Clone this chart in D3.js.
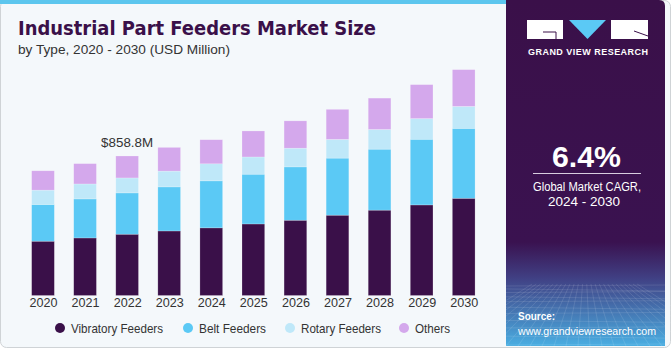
<!DOCTYPE html>
<html>
<head>
<meta charset="utf-8">
<script src="https://cdn.jsdelivr.net/npm/d3@7"></script>
<style>
  body { margin: 0; background: #ffffff; }
  svg { display: block; font-family: "Liberation Sans", Arial, sans-serif; }
</style>
</head>
<body>
<div id="chart"></div>
<script>
const years = ["2020", "2021", "2022", "2023", "2024", "2025", "2026", "2027", "2028", "2029", "2030"];
const vibratory = [334, 354, 377, 397, 416, 440, 463, 494, 525, 557, 598];
const belt = [226, 240, 254, 271, 289, 306, 328, 351, 375, 404, 430];
const rotary = [88, 92, 92, 97, 105, 106, 115, 115, 121, 127, 135];
const others = [119, 125, 135, 146, 148, 160, 168, 185, 193, 209, 226];
const seriesNames = ["Vibratory Feeders", "Belt Feeders", "Rotary Feeders", "Others"];
const seriesColors = ["#3a1049", "#5bc9f5", "#bfe8f9", "#d4a8ec"];
const calloutYear = "2022";
const calloutLabel = "$858.8M";

const width = 671, height = 350;

const svg = d3.select("#chart").append("svg")
    .attr("width", width)
    .attr("height", height);

const defs = svg.append("defs");
const grad = defs.append("linearGradient")
    .attr("id", "panelGrad")
    .attr("x1", 0).attr("y1", 0).attr("x2", 0).attr("y2", 1);
grad.append("stop").attr("offset", "0%").attr("stop-color", "#3a1049");
grad.append("stop").attr("offset", "70%").attr("stop-color", "#3a1250");
grad.append("stop").attr("offset", "80%").attr("stop-color", "#403e82");
grad.append("stop").attr("offset", "100%").attr("stop-color", "#4aaee2");

// card background
svg.append("rect")
    .attr("x", 0.5).attr("y", 0.5)
    .attr("width", width - 1).attr("height", height - 3)
    .attr("rx", 6)
    .attr("fill", "#f4f8fb")
    .attr("stroke", "#cfd3d6");
svg.append("rect")
    .attr("x", 0).attr("y", 0)
    .attr("width", 506).attr("height", 4)
    .attr("fill", "#5cc6ee");

// right panel
svg.append("path")
    .attr("d", "M506,0 H659 Q665,0 665,6 V346 H506 Z")
    .attr("fill", "url(#panelGrad)");

// grid texture at the bottom of the panel
const gridG = svg.append("g").attr("stroke", "#ffffff").attr("stroke-opacity", 0.16).attr("stroke-width", 0.7);
d3.range(0, 14).forEach(i => {
    const yy = 286 + i * i * 0.33 + i * 2.6;
    gridG.append("line").attr("x1", 506).attr("x2", 665).attr("y1", yy).attr("y2", yy + (i % 2 ? 2 : -1));
});
d3.range(-6, 20).forEach(i => {
    const xb = 506 + i * 12;
    gridG.append("line").attr("x1", 585 + (xb - 585) * 0.35).attr("y1", 284).attr("x2", xb).attr("y2", 346);
});

// logo
const logo = svg.append("g");
logo.append("rect").attr("x", 527).attr("y", 20).attr("width", 36).attr("height", 19).attr("fill", "#ffffff");
logo.append("path").attr("d", "M543,32 H556 V39").attr("fill", "none").attr("stroke", "#3a1049").attr("stroke-width", 1);
logo.append("path").attr("d", "M569,20 H606 L587.5,39 Z").attr("fill", "#5bc9f5");
logo.append("rect").attr("x", 611).attr("y", 20).attr("width", 37).attr("height", 19).attr("fill", "#ffffff");
logo.append("path").attr("d", "M634,31 L648,36").attr("stroke", "#3a1049").attr("stroke-width", 1);
logo.append("text")
    .attr("x", 528).attr("y", 55)
    .attr("fill", "#ffffff")
    .attr("font-size", 9)
    .attr("font-weight", "bold")
    .attr("textLength", 120)
    .attr("lengthAdjust", "spacing")
    .text("GRAND VIEW RESEARCH");

// CAGR
svg.append("text")
    .attr("x", 552).attr("y", 167)
    .attr("fill", "#ffffff")
    .attr("font-size", 30)
    .attr("font-weight", "bold")
    .attr("textLength", 69)
    .attr("lengthAdjust", "spacingAndGlyphs")
    .text("6.4%");
svg.append("line")
    .attr("x1", 533).attr("x2", 641).attr("y1", 173.5).attr("y2", 173.5)
    .attr("stroke", "#d8cde0").attr("stroke-width", 1);
svg.append("text")
    .attr("x", 533).attr("y", 191)
    .attr("fill", "#ffffff")
    .attr("font-size", 12.5)
    .attr("textLength", 108)
    .attr("lengthAdjust", "spacingAndGlyphs")
    .text("Global Market CAGR,");
svg.append("text")
    .attr("x", 548).attr("y", 206)
    .attr("fill", "#ffffff")
    .attr("font-size", 12.5)
    .attr("textLength", 72)
    .attr("lengthAdjust", "spacingAndGlyphs")
    .text("2024 - 2030");

// source
svg.append("text")
    .attr("x", 518).attr("y", 320)
    .attr("fill", "#ffffff")
    .attr("font-size", 11.5)
    .attr("font-weight", "bold")
    .attr("textLength", 37)
    .attr("lengthAdjust", "spacingAndGlyphs")
    .text("Source:");
svg.append("text")
    .attr("x", 518).attr("y", 335)
    .attr("fill", "#ffffff")
    .attr("font-size", 11.5)
    .attr("textLength", 138)
    .attr("lengthAdjust", "spacingAndGlyphs")
    .text("www.grandviewresearch.com");

// titles
svg.append("text")
    .attr("x", 18).attr("y", 35)
    .attr("fill", "#3a1049")
    .attr("font-family", "'DejaVu Sans', Arial, sans-serif")
    .attr("font-size", 19)
    .attr("font-weight", "bold")
    .attr("textLength", 358)
    .attr("lengthAdjust", "spacingAndGlyphs")
    .text("Industrial Part Feeders Market Size");
svg.append("text")
    .attr("x", 18).attr("y", 54)
    .attr("fill", "#333333")
    .attr("font-size", 13)
    .attr("textLength", 212)
    .attr("lengthAdjust", "spacingAndGlyphs")
    .text("by Type, 2020 - 2030 (USD Million)");

// chart
const data = years.map((year, i) => ({
    year,
    "Vibratory Feeders": vibratory[i],
    "Belt Feeders": belt[i],
    "Rotary Feeders": rotary[i],
    "Others": others[i],
}));

const stack = d3.stack().keys(seriesNames)(data);

const x = d3.scalePoint().domain(years).range([43, 463.7]);
const barWidth = 22.7;
const y = d3.scaleLinear().domain([0, 1000]).range([295.5, 132.9]);
const color = d3.scaleOrdinal(seriesNames, seriesColors);

svg.append("g")
    .selectAll("g")
    .data(stack)
    .join("g")
    .attr("fill", d => color(d.key))
    .selectAll("rect")
    .data(d => d)
    .join("rect")
    .attr("x", d => x(d.data.year) - barWidth / 2)
    .attr("y", d => y(d[1]))
    .attr("width", barWidth)
    .attr("height", d => y(d[0]) - y(d[1]))
    .attr("stroke", "#ffffff")
    .attr("stroke-opacity", 0.35)
    .attr("stroke-width", 0.6);

// year axis
const xAxis = svg.append("g")
    .attr("transform", "translate(0,296)")
    .call(d3.axisBottom(x).tickSize(0).tickPadding(2));
xAxis.select(".domain").remove();
xAxis.selectAll("text")
    .attr("font-size", 13)
    .attr("fill", "#333333")
    .attr("font-family", "'Liberation Sans', Arial, sans-serif")
    .attr("textLength", 28)
    .attr("lengthAdjust", "spacingAndGlyphs");

// callout
const calloutIdx = years.indexOf(calloutYear);
const calloutTotal = vibratory[calloutIdx] + belt[calloutIdx] + rotary[calloutIdx] + others[calloutIdx];
svg.append("text")
    .attr("x", x(calloutYear) - 26)
    .attr("y", y(calloutTotal) - 9)
    .attr("fill", "#333333")
    .attr("font-size", 13)
    .attr("textLength", 52)
    .attr("lengthAdjust", "spacingAndGlyphs")
    .text(calloutLabel);

// legend
const legendX = [60, 188, 290, 404];
const legendW = [92, 67, 80, 35];
const legend = svg.append("g")
    .selectAll("g")
    .data(seriesNames)
    .join("g")
    .attr("transform", (d, i) => `translate(${legendX[i]},328)`);
legend.append("circle")
    .attr("r", 5)
    .attr("fill", d => color(d));
legend.append("text")
    .attr("x", 11)
    .attr("dy", "0.35em")
    .attr("fill", "#333333")
    .attr("font-size", 13)
    .attr("textLength", (d, i) => legendW[i])
    .attr("lengthAdjust", "spacingAndGlyphs")
    .text(d => d);
</script>
</body>
</html>
